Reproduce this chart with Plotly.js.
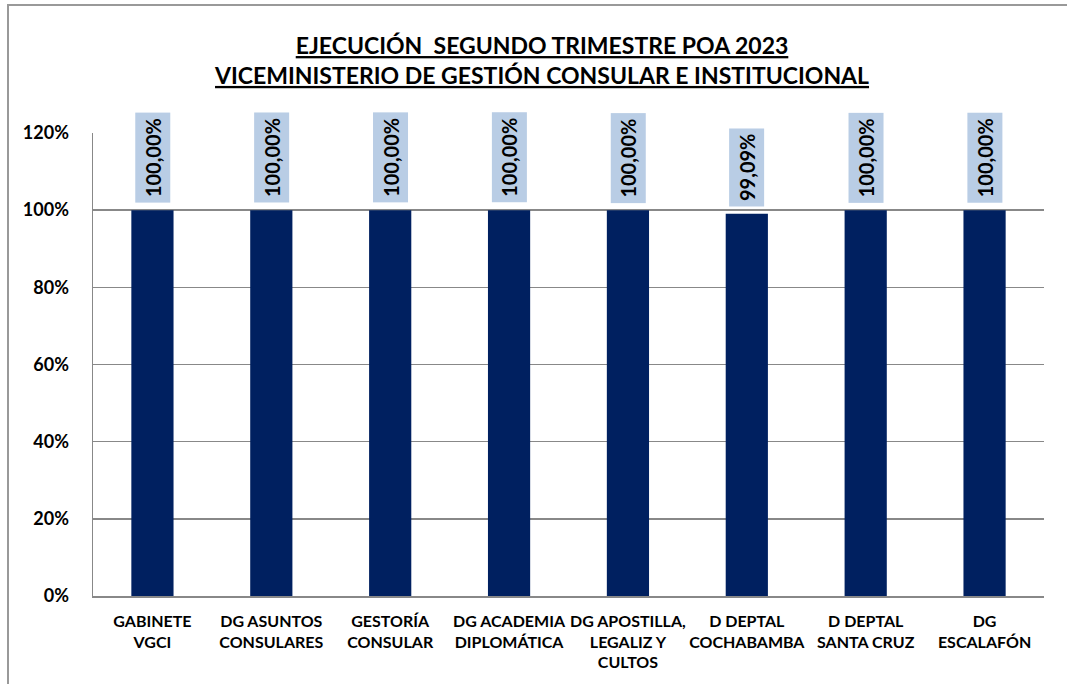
<!DOCTYPE html>
<html>
<head>
<meta charset="utf-8">
<script src="https://cdn.plot.ly/plotly-3.0.1.min.js"></script>
<style>
  body { margin: 0; background: #fff; overflow: hidden; }
  #chart { width: 1067px; height: 684px; }
  /* marco del gráfico (solo borde superior e izquierdo visibles) */
  #frame {
    position: absolute; left: 7px; top: 4px; width: 1100px; height: 700px;
    border-top: 2px solid #999; border-left: 2px solid #999;
    pointer-events: none;
  }
</style>
</head>
<body>
<div id="chart"></div>
<div id="frame"></div>
<script>
// datos del gráfico
const unidades = [
  'GABINETE<br>VGCI',
  'DG ASUNTOS<br>CONSULARES',
  'GESTORÍA<br>CONSULAR',
  'DG ACADEMIA<br>DIPLOMÁTICA',
  'DG APOSTILLA,<br>LEGALIZ Y<br>CULTOS',
  'D DEPTAL<br>COCHABAMBA',
  'D DEPTAL<br>SANTA CRUZ',
  'DG<br>ESCALAFÓN'
];
const ejecucion = [1.0, 1.0, 1.0, 1.0, 1.0, 0.9909, 1.0, 1.0];
const ticksY = [0, 0.2, 0.4, 0.6, 0.8, 1.0, 1.2];
const ticksYTexto = ['0%', '20%', '40%', '60%', '80%', '100%', '120%'];

const FUENTE = 'Lato, "Open Sans", sans-serif';

// formato con coma decimal
function porcentaje(v) {
  return (v * 100).toFixed(2).replace('.', ',') + '%';
}

const barras = {
  type: 'bar',
  x: unidades,
  y: ejecucion,
  marker: { color: '#002060' },
  hoverinfo: 'skip'
};

// etiquetas de datos giradas con fondo celeste
const etiquetas = unidades.map((u, i) => ({
  x: u,
  y: ejecucion[i],
  xref: 'x',
  yref: 'y',
  text: '<b>' + porcentaje(ejecucion[i]) + '</b>',
  textangle: -90,
  showarrow: false,
  yanchor: 'bottom',
  yshift: 7,
  bgcolor: '#B9CDE5',
  borderpad: 5,
  font: { family: FUENTE, size: 20, color: '#000', weight: 'bold' }
}));

const layout = {
  width: 1067,
  height: 684,
  paper_bgcolor: '#fff',
  plot_bgcolor: '#fff',
  margin: { l: 93, r: 23, t: 133, b: 88 },
  showlegend: false,
  bargap: 0.645,
  title: {
    text: '<b>EJECUCIÓN  SEGUNDO TRIMESTRE POA 2023<br>VICEMINISTERIO DE GESTIÓN CONSULAR E INSTITUCIONAL</b>',
    font: { family: FUENTE, size: 23, color: '#000', lineposition: 'under' },
    x: 0.508,
    xanchor: 'center',
    y: 0.921,
    yanchor: 'top'
  },
  xaxis: {
    type: 'category',
    tickfont: { family: FUENTE, size: 16, color: '#000', weight: 'bold' },
    tickangle: 0,
    showline: true,
    linecolor: '#888',
    linewidth: 1.5,
    ticks: '',
    ticklabelstandoff: 10
  },
  yaxis: {
    range: [0, 1.2],
    tickvals: ticksY,
    ticktext: ticksYTexto,
    tickfont: { family: FUENTE, size: 18, color: '#000', weight: 'bold' },
    showline: true,
    linecolor: '#888',
    linewidth: 1.5,
    showgrid: true,
    gridcolor: '#888',
    gridwidth: 1.5,
    zeroline: false,
    ticks: '',
    ticklabelstandoff: 19
  },
  annotations: etiquetas
};

Plotly.newPlot('chart', [barras], layout, { displayModeBar: false, staticPlot: true });
</script>
</body>
</html>
